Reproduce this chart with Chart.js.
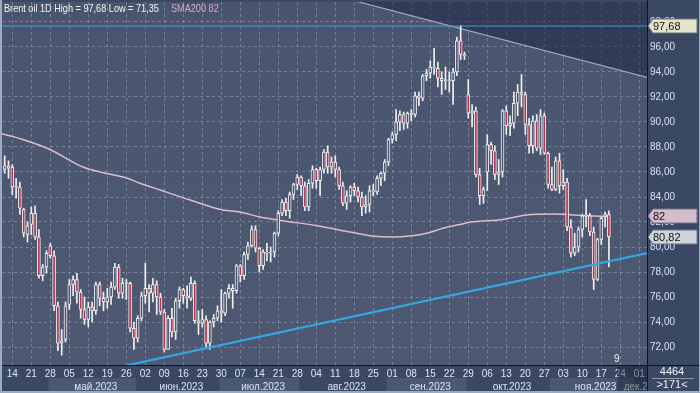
<!DOCTYPE html>
<html><head><meta charset="utf-8">
<script src="https://cdn.jsdelivr.net/npm/chart.js@4/dist/chart.umd.min.js"></script>
<style>html,body{margin:0;padding:0;background:#3a4864;}canvas{display:block}</style>
</head><body>
<canvas id="c" width="700" height="393"></canvas>
<script>
// ---- data (daily candles, Brent oil 1D) ----
const dates = ['13.04','14.04','17.04','18.04','19.04','20.04','21.04','24.04','25.04','26.04','27.04','28.04',
'01.05','02.05','03.05','04.05','05.05','08.05','09.05','10.05','11.05','12.05','15.05','16.05','17.05','18.05','19.05','22.05','23.05','24.05','25.05','26.05','29.05','30.05','31.05',
'01.06','02.06','05.06','06.06','07.06','08.06','09.06','12.06','13.06','14.06','15.06','16.06','19.06','20.06','21.06','22.06','23.06','26.06','27.06','28.06','29.06','30.06',
'03.07','04.07','05.07','06.07','07.07','10.07','11.07','12.07','13.07','14.07','17.07','18.07','19.07','20.07','21.07','24.07','25.07','26.07','27.07','28.07','31.07',
'01.08','02.08','03.08','04.08','07.08','08.08','09.08','10.08','11.08','14.08','15.08','16.08','17.08','18.08','21.08','22.08','23.08','24.08','25.08','28.08','29.08','30.08','31.08',
'01.09','04.09','05.09','06.09','07.09','08.09','11.09','12.09','13.09','14.09','15.09','18.09','19.09','20.09','21.09','22.09','25.09','26.09','27.09','28.09','29.09',
'02.10','03.10','04.10','05.10','06.10','09.10','10.10','11.10','12.10','13.10','16.10','17.10','18.10','19.10','20.10','23.10','24.10','25.10','26.10','27.10','30.10','31.10',
'01.11','02.11','03.11','06.11','07.11','08.11','09.11','10.11','13.11','14.11','15.11','16.11','17.11','20.11','21.11','22.11'];

const open = [86.2,86.5,86.4,84.8,84.8,83.0,81.0,81.8,82.7,80.8,
77.7,78.4,80.1,79.3,75.3,72.3,72.6,75.4,77.0,77.4,
76.4,75.0,74.2,75.2,74.9,77.0,75.9,75.6,76.0,76.8,
78.4,76.3,77.1,77.1,73.5,72.7,74.3,76.1,76.7,76.3,
77.0,76.0,74.8,71.8,74.3,73.2,75.7,76.6,76.1,75.9,
77.1,74.1,73.9,74.2,72.3,74.0,74.3,74.9,74.7,76.3,
76.7,76.5,78.5,77.7,79.4,80.1,81.4,79.9,78.5,79.6,
79.5,79.6,81.1,82.7,83.6,82.9,84.2,85.0,85.6,84.9,
83.2,85.1,86.2,85.3,86.2,87.6,86.4,86.8,86.2,84.9,
83.5,84.1,84.8,84.5,84.0,83.2,83.4,84.5,84.4,85.5,
85.9,86.8,88.6,89.0,90.0,90.6,89.9,90.7,90.6,92.1,
91.9,93.7,93.9,94.4,94.3,93.5,93.3,93.3,93.3,94.0,
96.5,95.4,92.2,90.7,90.9,85.8,84.1,86.0,88.2,87.7,
85.8,86.0,90.9,89.7,89.9,91.5,92.4,92.2,89.8,88.1,
90.1,87.9,90.5,87.5,85.0,84.6,86.9,84.9,85.2,81.6,
79.5,80.0,81.4,82.5,82.5,81.2,77.4,80.6,82.6,82.6];

const high = [87.3,86.9,86.6,85.5,85.2,83.1,82.0,83.2,83.3,81.4,
78.6,79.7,80.3,79.7,75.6,73.4,75.6,77.4,77.7,77.9,
76.6,76.0,75.6,75.6,77.2,77.2,76.4,76.7,77.2,78.7,
78.6,77.5,77.4,77.2,74.0,74.5,76.4,78.7,77.0,77.5,
77.3,76.3,75.0,74.5,75.1,75.9,76.8,76.7,76.9,77.6,
77.3,74.9,75.0,74.5,74.1,74.6,75.3,76.6,76.4,77.0,
77.0,78.6,78.6,79.6,80.4,81.7,81.7,80.0,79.8,80.3,
80.0,81.2,82.9,83.8,83.9,84.4,85.1,85.8,85.7,85.2,
85.4,86.5,86.3,86.4,87.8,88.1,87.2,87.3,86.4,85.2,
84.5,84.9,85.1,84.8,84.4,84.1,84.9,85.0,85.7,86.0,
87.0,88.7,89.2,91.0,90.9,90.8,90.8,91.0,92.4,92.4,
93.8,94.2,94.9,95.9,94.8,94.0,94.4,94.0,94.3,96.8,
97.68,95.6,93.4,91.4,91.2,86.3,84.8,89.0,88.4,88.1,
87.0,91.0,91.3,90.5,92.4,93.0,93.8,92.4,90.3,90.5,
90.6,91.0,90.7,87.6,86.4,87.2,87.5,86.2,85.5,82.2,
81.1,81.6,82.6,83.8,82.7,81.6,80.7,82.4,82.8,82.9];

const low = [85.9,85.5,84.2,83.9,82.6,80.8,80.4,81.0,80.6,77.5,
77.3,77.9,79.1,74.9,71.7,71.35,72.4,75.0,76.1,75.5,
74.3,73.8,73.6,74.0,74.6,75.3,74.9,75.1,75.4,76.6,
75.9,75.9,75.8,73.2,71.8,72.4,74.1,75.5,74.8,75.6,
74.6,74.6,71.6,71.8,72.8,72.6,75.1,75.5,75.1,75.7,
73.9,73.0,73.6,72.0,71.8,73.6,74.1,74.0,74.5,75.9,
75.1,76.3,77.2,77.4,79.0,80.0,79.6,78.0,78.2,78.9,
78.8,79.2,80.9,82.5,82.5,82.3,83.8,84.6,84.1,82.9,
82.9,84.7,84.7,84.1,85.9,85.9,85.9,85.6,84.6,83.3,
83.0,83.6,84.1,83.6,82.5,82.7,82.8,84.1,84.2,84.9,
85.3,86.5,88.3,88.5,89.3,89.4,89.5,90.1,90.4,91.3,
91.7,93.3,93.5,93.8,92.8,92.2,92.6,92.4,91.4,93.7,
95.0,95.0,90.3,89.6,85.6,83.4,83.5,84.5,86.6,85.4,
85.0,85.6,89.0,88.9,89.5,90.5,91.2,89.0,87.5,87.5,
87.7,87.4,87.4,84.7,84.5,84.5,84.3,84.6,81.3,79.2,
79.3,79.6,80.8,81.6,80.9,76.6,77.3,80.2,81.6,78.4];

const close = [86.5,86.3,84.8,84.8,83.1,81.1,81.7,82.7,80.8,77.7,
78.4,79.5,79.3,75.3,72.3,72.5,75.3,77.0,77.4,76.4,
75.0,74.2,75.2,74.9,77.0,75.9,75.6,76.0,76.8,78.4,
76.3,77.1,77.1,73.5,72.7,74.3,76.1,76.7,76.3,77.0,
76.0,74.8,71.8,74.3,73.2,75.7,76.6,76.1,75.9,77.1,
74.1,73.9,74.2,72.3,74.0,74.3,74.9,74.7,76.3,76.7,
76.5,78.5,77.7,79.4,80.1,81.4,79.9,78.5,79.6,79.5,
79.6,81.1,82.7,83.6,82.9,84.2,85.0,85.6,84.9,83.2,
85.1,86.2,85.3,86.2,87.6,86.4,86.8,86.2,84.9,83.5,
84.1,84.8,84.5,84.0,83.2,83.4,84.5,84.4,85.5,85.9,
86.8,88.6,89.0,90.0,90.6,89.9,90.7,90.6,92.1,91.9,
93.7,93.9,94.4,94.3,93.5,93.3,93.3,93.3,94.0,96.5,
95.4,95.3,90.7,90.9,85.8,84.1,84.6,88.2,87.7,85.8,
86.0,90.9,89.7,89.9,91.5,92.4,92.2,89.8,88.1,90.1,
87.9,90.5,87.5,85.0,84.6,86.9,84.9,85.2,81.6,79.5,
80.0,81.4,82.5,82.5,81.2,77.4,80.6,82.3,82.4,80.82];

const smaX = [-1.2,4.8,11.9,20.6,25.1,32.2,35.6,40.9,48.8,57.4,61.9,67.2,73.2,82.2,90.9,96.1,102.2,111.1,115.3,119.8,122.4,131.1,137.4,144.3,153.2,159];
const smaY = [89.1,88.6,87.8,86.4,86.0,85.5,85.1,84.56,83.76,82.96,82.8,82.4,82.1,81.7,81.2,80.9,80.8,81.1,81.5,81.8,81.98,82.2,82.56,82.64,82.5,82.45];
const smaLast = 82.45;

// drawn lines (candle index, price)
const supportX = [30,170], supportY = [70.39,79.58];
const resistX = [90,170], resistY = [99.86,93.5];
const highLevel = 97.68, lastPrice = 80.82;

// axis ticks
const weekTickIdx = [2,7,12,17,22,27,32,37,42,47,52,57,62,67,72,77,82,87,92,97,102,107,112,117,122,127,132,137,142,147,152,157,162,167];
const weekTickLabels = ['14','21','28','05','12','19','26','02','09','16','23','30','07','14','21','28','04','11','18','25','01','08','15','22','29','06','13','20','27','03','10','17','24','01'];
const monthStart = [-20,12,35,57,78,101,122,144,166];
const monthNames = ['','май.2023','июн.2023','июл.2023','авг.2023','сен.2023','окт.2023','ноя.2023','дек.2023'];
const priceTicks = [72,74,76,78,80,82,84,86,88,90,92,94,96,98];

// ---- view ----
const X_MIN = -0.71, X_MAX = 169.03, Y_MIN = 70.56, Y_MAX = 99.6;
const UP_FILL = '#4c5770', DOWN_FILL = '#b8344f', CANDLE = '#f0f0f0';
const FONT = '"Liberation Sans", Arial, sans-serif';

function monthCenters(){
  const c = [];
  for (let k=0;k<monthStart.length;k++){
    const s = Math.max(monthStart[k]-0.5, X_MIN);
    const e = Math.min(k+1<monthStart.length ? monthStart[k+1]-0.5 : X_MAX, X_MAX);
    c.push((s+e)/2 + 1);
  }
  return c;
}

function narrowText(ctx, txt, x, y, sx){
  ctx.save();
  ctx.translate(x, y);
  ctx.scale(sx, 1);
  ctx.fillText(txt, 0, 0);
  ctx.restore();
}

const bgPlugin = {
  id:'bg',
  beforeDraw(chart){
    const {ctx, chartArea:a} = chart;
    ctx.save();
    ctx.fillStyle = '#3a4864';
    ctx.fillRect(0,0,700,393);
    const g = ctx.createLinearGradient(0,a.top,0,a.bottom);
    g.addColorStop(0,'#49556f'); g.addColorStop(1,'#4e5871');
    ctx.fillStyle = g;
    ctx.fillRect(a.left,a.top,a.right-a.left,a.bottom-a.top);
    const xs = chart.scales.x;
    for (let k=0;k<monthStart.length;k++){
      if (k%2===0) continue;
      const s = xs.getPixelForValue(monthStart[k]-0.5);
      const e = xs.getPixelForValue(k+1<monthStart.length ? monthStart[k+1]-0.5 : X_MAX);
      ctx.fillStyle = '#4b5874';
      ctx.fillRect(s, 378, Math.min(e,a.right)-s, 13);
    }
    ctx.restore();
  }
};

const overlayPlugin = {
  id:'overlay',
  afterDraw(chart){
    const {ctx, chartArea:a} = chart;
    const xs = chart.scales.x, ys = chart.scales.y;
    ctx.save();
    const fx = xs.getPixelForValue(161.2);
    ctx.fillStyle = 'rgba(25,33,52,0.45)';
    ctx.fillRect(fx, a.bottom, a.right-fx, 393-a.bottom);
    ctx.fillStyle = '#3a4864';
    ctx.fillRect(a.right, a.bottom, 700-a.right, 393-a.bottom);
    ctx.fillStyle = '#f2f2f2';
    ctx.font = '11px '+FONT;
    ctx.textAlign = 'center'; ctx.textBaseline = 'middle';
    ctx.fillText('4464', 672, 372);
    ctx.fillText('>171<', 672, 385);
    ctx.strokeStyle = '#8e9bb3'; ctx.lineWidth = 1;
    ctx.beginPath(); ctx.moveTo(652,378.5); ctx.lineTo(694,378.5); ctx.stroke();
    ctx.strokeStyle = '#0d1322'; ctx.lineWidth = 1;
    ctx.beginPath(); ctx.moveTo(a.right+0.5,0); ctx.lineTo(a.right+0.5,393); ctx.stroke();
    ctx.beginPath(); ctx.moveTo(0,a.bottom+0.5); ctx.lineTo(700,a.bottom+0.5); ctx.stroke();
    ctx.fillStyle = '#9aabc4';
    ctx.fillRect(0,0,2,393);
    ctx.fillRect(0,391,700,2);
    ctx.fillRect(699,0,1,393);
    const tag = (v, txt, bg) => {
      const y = Math.round(ys.getPixelForValue(v));
      ctx.beginPath();
      ctx.moveTo(a.right+1, y);
      ctx.lineTo(a.right+6, y-7); ctx.lineTo(697, y-7); ctx.lineTo(697, y+7); ctx.lineTo(a.right+6, y+7);
      ctx.closePath();
      ctx.fillStyle = bg; ctx.fill();
      ctx.strokeStyle = '#6d7588'; ctx.stroke();
      ctx.fillStyle = '#111111'; ctx.font = '11px '+FONT;
      ctx.textAlign = 'left'; ctx.textBaseline = 'middle';
      ctx.fillText(txt, a.right+6, y+0.5);
    };
    tag(highLevel, '97,68', '#e7e5c9');
    tag(smaLast, '82', '#d5bccb');
    tag(lastPrice, '80,82', '#cfd3db');
    ctx.font = '11px '+FONT; ctx.textAlign='left'; ctx.textBaseline='middle';
    ctx.fillStyle = '#f4f4f4';
    narrowText(ctx, 'Brent oil 1D High = 97,68 Low = 71,35', 4, 9, 0.83);
    ctx.fillStyle = '#dca6c0';
    narrowText(ctx, 'SMA200 82', 171, 9, 0.83);
    ctx.fillStyle = '#f0f0f0'; ctx.font = '10px '+FONT; ctx.textAlign='center';
    ctx.fillText('9', xs.getPixelForValue(161.1), 359);
    ctx.restore();
  }
};

const ctx = document.getElementById('c').getContext('2d');
new Chart(ctx, {
  type:'bar',
  data:{ datasets:[
    { type:'line', label:'resist', xAxisID:'x', yAxisID:'y', order:6,
      data: resistX.map((x,i)=>({x, y:resistY[i]})),
      borderColor:'rgba(172,178,192,0.9)', borderWidth:1.2, pointRadius:0,
      fill:'end', backgroundColor:'rgba(28,38,68,0.55)' },
    { type:'line', label:'high', xAxisID:'x', yAxisID:'y', order:5,
      data:[{x:X_MIN-2,y:highLevel},{x:X_MAX+2,y:highLevel}],
      borderColor:'#3a9fd8', borderWidth:1, pointRadius:0 },
    { type:'line', label:'SMA200', xAxisID:'x', yAxisID:'y', order:4,
      data: smaX.map((x,i)=>({x, y:smaY[i]})),
      borderColor:'#dcbdcd', borderWidth:1.5, pointRadius:0, tension:0.4, cubicInterpolationMode:'monotone' },
    { type:'bar', label:'wick', xAxisID:'x', yAxisID:'y', order:3, grouped:false,
      data: dates.map((d,i)=>({x:i, y:[low[i],high[i]]})),
      backgroundColor:CANDLE, barThickness:1, borderWidth:0 },
    { type:'bar', label:'body', xAxisID:'x', yAxisID:'y', order:2, grouped:false,
      data: dates.map((d,i)=>({x:i, y:[open[i],close[i]]})),
      backgroundColor: c => close[c.dataIndex] < open[c.dataIndex] ? DOWN_FILL : UP_FILL,
      borderColor:CANDLE, borderWidth:1, borderSkipped:false, barThickness:3, minBarLength:1 },
    { type:'line', label:'support', xAxisID:'x', yAxisID:'y', order:1,
      data: supportX.map((x,i)=>({x, y:supportY[i]})),
      borderColor:'#33a7e2', borderWidth:2.2, pointRadius:0 }
  ]},
  options:{
    responsive:false, animation:false, devicePixelRatio:1, events:[],
    layout:{padding:{left:2, top:2, right:0, bottom:0}},
    plugins:{legend:{display:false}, tooltip:{enabled:false}, title:{display:false}},
    scales:{
      x:{ type:'linear', position:'bottom', min:X_MIN, max:X_MAX, offset:false, weight:0,
        afterBuildTicks: s => { s.ticks = weekTickIdx.map(v=>({value:v})); },
        afterFit: s => { s.height = 13; s.paddingLeft = 0; s.paddingRight = 0; },
        ticks:{ autoSkip:false, maxRotation:0, minRotation:0, color:'#dce4f2', padding:3,
          font:{size:10, family:FONT}, callback:(v,i)=>weekTickLabels[i] },
        grid:{ offset:false, color:'rgba(150,166,192,0.55)', lineWidth:1, drawTicks:false },
        border:{ display:false, dash:[3,3] } },
      xm:{ type:'linear', position:'bottom', min:X_MIN, max:X_MAX, offset:false, weight:1,
        afterBuildTicks: s => { s.ticks = monthCenters().map(v=>({value:v})); },
        afterFit: s => { s.height = 15; s.paddingLeft = 0; s.paddingRight = 0; },
        ticks:{ autoSkip:false, maxRotation:0, minRotation:0, color:'#dce4f2', padding:3,
          font:{size:10, family:FONT}, callback:(v,i)=>monthNames[i] },
        grid:{ display:false, drawTicks:false }, border:{ display:false } },
      y:{ type:'linear', position:'right', min:Y_MIN, max:Y_MAX, beginAtZero:false,
        afterBuildTicks: s => { s.ticks = priceTicks.map(v=>({value:v})); },
        afterFit: s => { s.width = 53; s.paddingTop = 0; s.paddingBottom = 0; },
        ticks:{ color:'#d6e0f0', padding:3, font:{size:10, family:FONT},
          callback: v => v.toFixed(2).replace('.', ',') },
        grid:{ color:'rgba(150,166,192,0.55)', lineWidth:1, drawTicks:false },
        border:{ display:false, dash:[3,3] } }
    }
  },
  plugins:[bgPlugin, overlayPlugin]
});
</script>
</body></html>
